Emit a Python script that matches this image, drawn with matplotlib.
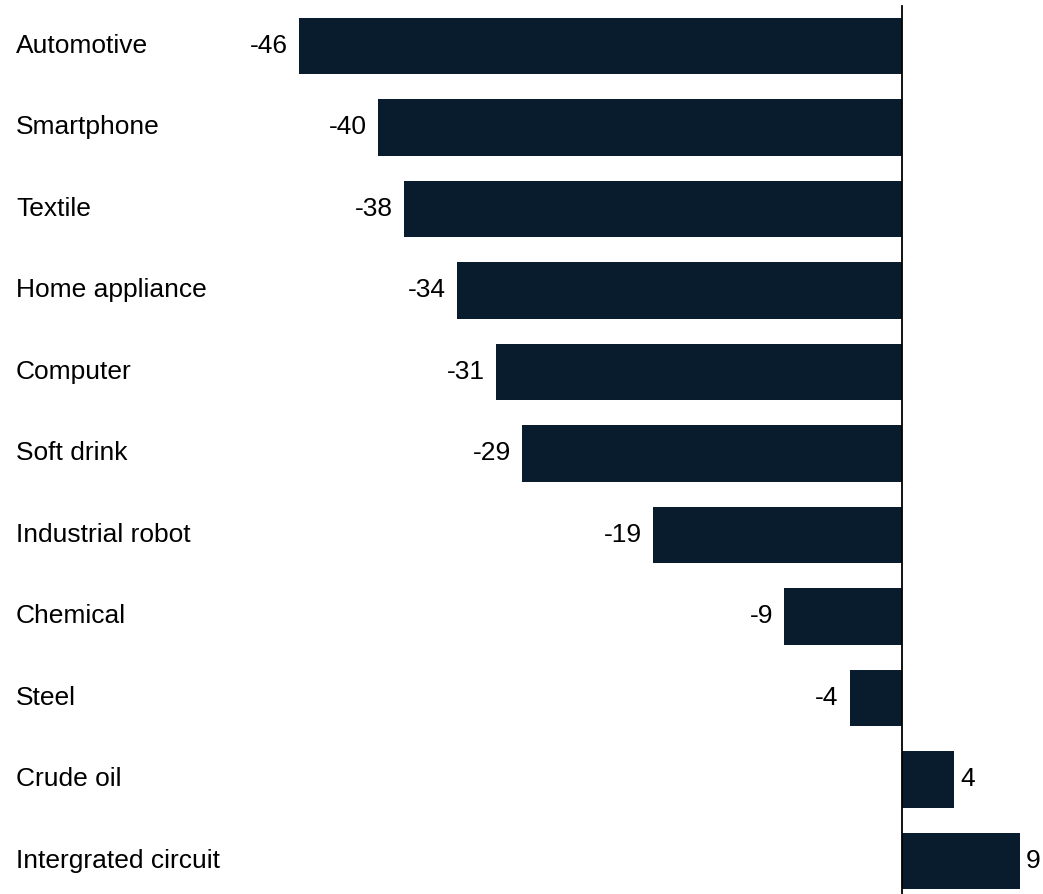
import matplotlib.pyplot as plt
import matplotlib.transforms as mtransforms

plt.rcParams['font.family'] = ['Liberation Sans', 'DejaVu Sans']

categories = ['Automotive', 'Smartphone', 'Textile', 'Home appliance', 'Computer',
              'Soft drink', 'Industrial robot', 'Chemical', 'Steel', 'Crude oil',
              'Intergrated circuit']
values = [-46, -40, -38, -34, -31, -29, -19, -9, -4, 4, 9]

bar_color = '#081c2e'
font_size = 19

fig = plt.figure(figsize=(10.43, 8.94), dpi=100)
ax = fig.add_axes([0, 0, 1, 1])

y = list(range(len(categories)))
ax.barh(y, values, height=0.69, color=bar_color)

ax.set_xlim(-68.85, 10.76)
ax.set_ylim(10.405, -0.564)
ax.axvline(0, ymin=0, ymax=0.993, color='black', linewidth=1.3)

# category names sit at the far left, value labels just outside each bar end
trans = mtransforms.blended_transform_factory(fig.transFigure, ax.transData)
for yi, name, v in zip(y, categories, values):
    ax.text(16 / 1043, yi, name, transform=trans, ha='left', va='center',
            fontsize=font_size, color='black')
    if v < 0:
        ax.annotate(f'{v}', (v, yi), xytext=(-8, 0), textcoords='offset points',
                    ha='right', va='center', fontsize=font_size, color='black')
    else:
        ax.annotate(f'{v}', (v, yi), xytext=(4, 0), textcoords='offset points',
                    ha='left', va='center', fontsize=font_size, color='black')

ax.axis('off')
fig.savefig('out.png', dpi=100)
